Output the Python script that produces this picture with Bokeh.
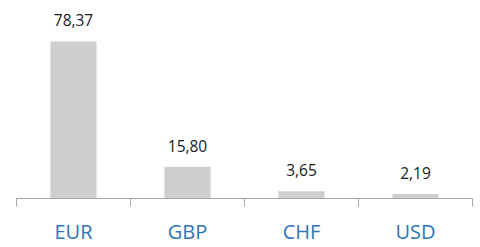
from bokeh.plotting import figure
from bokeh.models import Range1d, FixedTicker, ColumnDataSource
from bokeh.core.properties import value
from bokeh.embed import file_html
from bokeh.resources import INLINE

categories = ["EUR", "GBP", "CHF", "USD"]
values = [78.37, 15.80, 3.65, 2.19]

positions = [i + 0.5 for i in range(len(categories))]
labels = [f"{v:.2f}".replace(".", ",") for v in values]

src = ColumnDataSource(dict(x=positions, top=values, label=labels))

p = figure(width=480, height=247, output_backend="svg", toolbar_location=None,
           x_range=Range1d(0, len(categories)), y_range=Range1d(0, 98.8),
           min_border_left=16, min_border_right=8, min_border_top=0,
           min_border_bottom=44)

p.vbar(x="x", top="top", width=0.405, source=src, color="#D0CECE", line_color=None)
p.text(x="x", y="top", text="label", source=src, text_align="center",
       text_baseline="alphabetic", y_offset=-21, text_font=value("Open Sans"),
       text_font_size="15.5px", text_color="#1a1a1a")

ax = p.xaxis[0]
ax.ticker = FixedTicker(ticks=positions, minor_ticks=list(range(len(categories) + 1)))
ax.major_label_overrides = {pos: c for pos, c in zip(positions, categories)}
ax.major_tick_line_color = None
ax.minor_tick_in = 0
ax.minor_tick_out = 8
ax.minor_tick_line_color = "#A6A6A6"
ax.axis_line_color = "#A6A6A6"
ax.major_label_text_font = "Open Sans"
ax.major_label_text_font_size = "20px"
ax.major_label_text_color = "#2E75B6"
ax.major_label_standoff = 11

p.yaxis.visible = False
p.xgrid.visible = False
p.ygrid.visible = False
p.outline_line_color = None
p.background_fill_color = "white"
p.border_fill_color = "white"

open("out.html", "w").write(file_html(p, INLINE))
